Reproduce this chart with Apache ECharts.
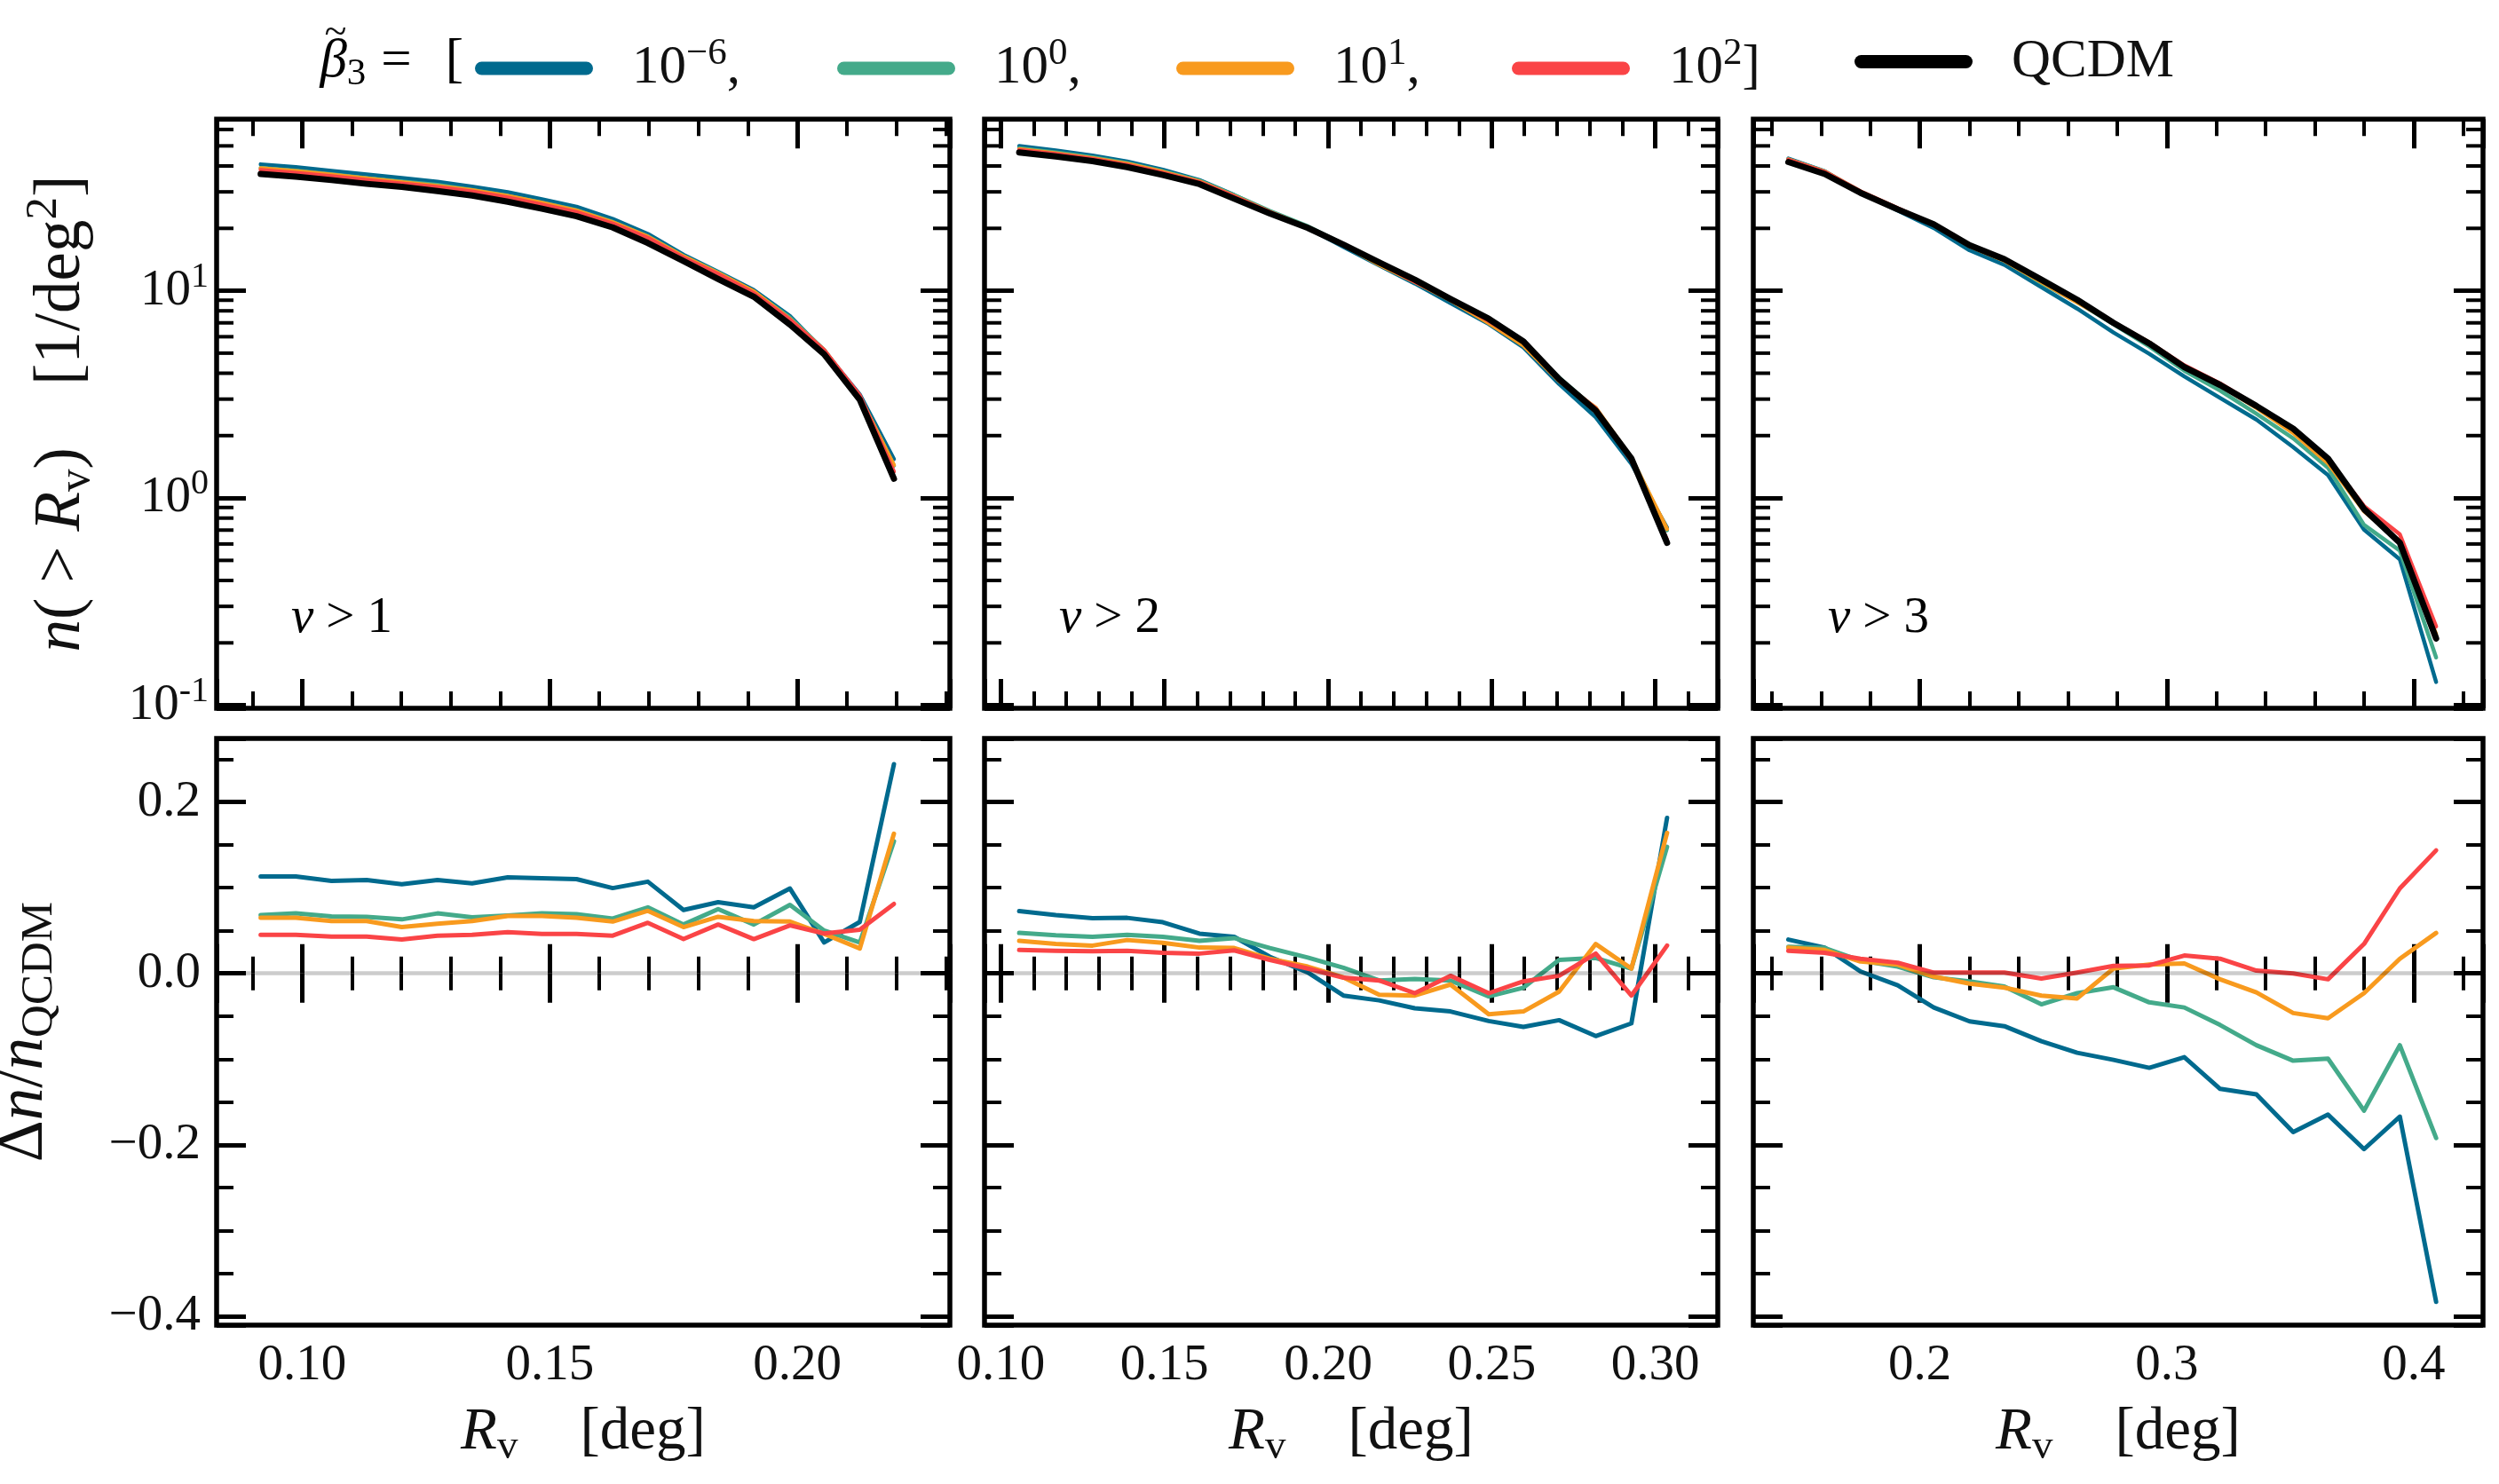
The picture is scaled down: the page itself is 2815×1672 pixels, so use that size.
<!DOCTYPE html>
<html><head><meta charset="utf-8">
<script src="https://cdn.jsdelivr.net/npm/echarts@6/dist/echarts.min.js"></script>
<style>html,body{margin:0;padding:0;background:#fff}#c{width:2815px;height:1672px}</style>
</head><body><div id="c"></div>
<script>
// ---------------- DATA ----------------
const seriesNames = ['b6', 'b0', 'b1', 'b2'];          // beta3 = 1e-6, 1e0, 1e1, 1e2
const qcdmName = 'QCDM';
const seriesColors = ['#006A8E', '#44AA8A', '#F89A1E', '#FA4446'];
const nuLabels = ['1', '2', '3'];

const rv_nu1 = [0.0916, 0.0987, 0.1059, 0.1130, 0.1201, 0.1273, 0.1343, 0.1415, 0.1484, 0.1554, 0.1627, 0.1698, 0.1770, 0.1840, 0.1912, 0.1985, 0.2054, 0.2126, 0.2195];
const rv_nu2 = [0.1056, 0.1168, 0.1280, 0.1386, 0.1495, 0.1607, 0.1713, 0.1822, 0.1938, 0.2047, 0.2156, 0.2265, 0.2374, 0.2491, 0.2597, 0.2706, 0.2818, 0.2927, 0.3036];
const rv_nu3 = [0.1467, 0.1614, 0.1759, 0.1910, 0.2056, 0.2201, 0.2342, 0.2492, 0.2637, 0.2784, 0.2929, 0.3071, 0.3216, 0.3363, 0.3512, 0.3653, 0.3799, 0.3944, 0.4091];

// cumulative abundance n(>Rv) [1/deg^2]
const n_nu1_qcdm = [36.6, 35.5, 34.2, 32.8, 31.7, 30.3, 28.8, 26.9, 24.9, 22.9, 20.2, 17.0, 13.9, 11.4, 9.36, 6.87, 4.94, 2.98, 1.24];
const n_nu1_b6 = [40.74, 39.51, 37.89, 36.38, 35.00, 33.60, 31.82, 29.91, 27.66, 25.42, 22.21, 18.82, 14.93, 12.35, 10.08, 7.55, 5.12, 3.16, 1.54];
const n_nu1_b0 = [39.09, 37.99, 36.47, 34.96, 33.70, 32.42, 30.69, 28.72, 26.64, 24.48, 21.49, 18.31, 14.69, 12.26, 9.89, 7.42, 5.19, 3.09, 1.43];
const n_nu1_b1 = [38.98, 37.81, 36.29, 34.80, 33.41, 32.06, 30.56, 28.70, 26.57, 24.39, 21.42, 18.24, 14.65, 12.15, 9.93, 7.29, 5.17, 3.07, 1.44];
const n_nu1_b2 = [38.25, 37.10, 35.67, 34.21, 32.95, 31.63, 30.10, 28.19, 26.05, 23.95, 21.09, 18.00, 14.46, 12.05, 9.73, 7.25, 5.17, 3.13, 1.34];

const n_nu2_qcdm = [46.5, 44.5, 42.2, 39.5, 36.2, 32.7, 27.8, 23.6, 20.1, 16.7, 13.7, 11.3, 9.12, 7.32, 5.69, 3.75, 2.64, 1.55, 0.608];
const n_nu2_b6 = [49.88, 47.53, 44.92, 42.06, 38.36, 34.21, 28.98, 24.06, 20.12, 16.27, 13.27, 10.84, 8.72, 6.91, 5.33, 3.55, 2.45, 1.46, 0.718];
const n_nu2_b0 = [48.69, 46.48, 44.00, 41.27, 37.74, 33.94, 28.95, 24.30, 20.47, 16.81, 13.59, 11.23, 9.04, 7.12, 5.60, 3.81, 2.69, 1.56, 0.698];
const n_nu2_b1 = [48.27, 46.03, 43.57, 41.04, 37.49, 33.68, 28.62, 24.00, 20.26, 16.62, 13.36, 11.01, 9.00, 6.97, 5.44, 3.67, 2.73, 1.56, 0.708];
const n_nu2_b2 = [47.77, 45.67, 43.29, 40.54, 37.07, 33.46, 28.55, 23.97, 20.21, 16.61, 13.59, 11.04, 9.09, 7.15, 5.64, 3.74, 2.70, 1.51, 0.628];

const n_nu3_qcdm = [41.8, 36.6, 29.7, 24.7, 20.9, 16.6, 14.2, 11.3, 9.04, 7.0, 5.57, 4.28, 3.51, 2.78, 2.16, 1.55, 0.884, 0.608, 0.210];
const n_nu3_b6 = [43.45, 37.70, 29.77, 24.36, 20.07, 15.67, 13.33, 10.41, 8.20, 6.29, 4.96, 3.86, 3.04, 2.39, 1.76, 1.29, 0.703, 0.506, 0.1295];
const n_nu3_b0 = [43.10, 37.68, 30.14, 24.90, 20.80, 16.45, 13.98, 10.89, 8.83, 6.89, 5.38, 4.11, 3.30, 2.55, 1.94, 1.40, 0.742, 0.557, 0.170];
const n_nu3_b1 = [43.06, 37.60, 30.11, 24.95, 20.82, 16.40, 13.96, 11.01, 8.78, 7.04, 5.63, 4.33, 3.49, 2.72, 2.06, 1.47, 0.864, 0.618, 0.220];
const n_nu3_b2 = [42.90, 37.48, 30.21, 25.01, 20.92, 16.61, 14.21, 11.23, 9.05, 7.06, 5.62, 4.37, 3.57, 2.79, 2.16, 1.54, 0.914, 0.668, 0.240];

// relative difference dn / n_QCDM
const dn_nu1_b6 = [0.113, 0.113, 0.108, 0.109, 0.104, 0.109, 0.105, 0.112, 0.111, 0.110, 0.0995, 0.107, 0.074, 0.083, 0.077, 0.099, 0.036, 0.060, 0.244];
const dn_nu1_b0 = [0.068, 0.070, 0.0665, 0.066, 0.063, 0.070, 0.0655, 0.0675, 0.070, 0.069, 0.064, 0.077, 0.057, 0.075, 0.057, 0.080, 0.050, 0.036, 0.154];
const dn_nu1_b1 = [0.065, 0.065, 0.061, 0.061, 0.054, 0.058, 0.061, 0.067, 0.067, 0.065, 0.0605, 0.073, 0.054, 0.066, 0.061, 0.0605, 0.046, 0.029, 0.163];
const dn_nu1_b2 = [0.045, 0.045, 0.043, 0.043, 0.0395, 0.044, 0.045, 0.048, 0.046, 0.046, 0.044, 0.059, 0.040, 0.057, 0.040, 0.056, 0.0465, 0.051, 0.081];

const dn_nu2_b6 = [0.0727, 0.068, 0.0644, 0.0648, 0.0597, 0.0463, 0.0426, 0.0194, 0.001, -0.0259, -0.0315, -0.0407, -0.0444, -0.0556, -0.0625, -0.0546, -0.0731, -0.0583, 0.1815];
const dn_nu2_b0 = [0.0472, 0.0444, 0.0426, 0.0449, 0.0426, 0.038, 0.0412, 0.0296, 0.0185, 0.0065, -0.0083, -0.0065, -0.0083, -0.0269, -0.0167, 0.0157, 0.018, 0.0056, 0.1477];
const dn_nu2_b1 = [0.038, 0.0343, 0.0324, 0.0389, 0.0356, 0.0301, 0.0296, 0.0171, 0.0079, -0.0046, -0.025, -0.0259, -0.013, -0.0477, -0.0444, -0.0213, 0.0343, 0.0056, 0.1639];
const dn_nu2_b2 = [0.0273, 0.0264, 0.0259, 0.0264, 0.0241, 0.0231, 0.0269, 0.0157, 0.0056, -0.0051, -0.0083, -0.0231, -0.0028, -0.0231, -0.0093, -0.0028, 0.0231, -0.0259, 0.0324];

const dn_nu3_b6 = [0.0394, 0.0301, 0.0023, -0.0139, -0.0398, -0.056, -0.0616, -0.0792, -0.0926, -0.1009, -0.1102, -0.0977, -0.1347, -0.1412, -0.1852, -0.1648, -0.2051, -0.1671, -0.3833];
const dn_nu3_b0 = [0.031, 0.0296, 0.0148, 0.0079, -0.0046, -0.0093, -0.0153, -0.0361, -0.0231, -0.0162, -0.0338, -0.0398, -0.0602, -0.0838, -0.1019, -0.0995, -0.1602, -0.0838, -0.1921];
const dn_nu3_b1 = [0.0301, 0.0273, 0.0139, 0.0102, -0.0037, -0.012, -0.0167, -0.0259, -0.0292, 0.0056, 0.0102, 0.0116, -0.0069, -0.0222, -0.0463, -0.0523, -0.0231, 0.0171, 0.0472];
const dn_nu3_b2 = [0.0264, 0.0241, 0.0171, 0.0125, 0.0009, 0.0009, 0.0009, -0.006, 0.0009, 0.0088, 0.0093, 0.0208, 0.0171, 0.0032, 0.0, -0.0069, 0.0343, 0.0991, 0.1435];

// axis limits / ticks
const xLim_nu1 = [0.0827, 0.2308];
const xLim_nu2 = [0.0950, 0.3191];
const xLim_nu3 = [0.1325, 0.4281];
const yLim_n = [0.0967, 67.25];
const yLim_dn = [-0.4104, 0.2741];
const logMinorTicks = [0.2, 0.3, 0.4, 0.5, 0.6, 0.7, 0.8, 0.9, 2, 3, 4, 5, 6, 7, 8, 9, 20, 30, 40, 50, 60];

// --------------- LAYOUT / STYLE ---------------
const FONT = '"Liberation Serif","DejaVu Serif",serif';
const TXT = '#111';
function richSet(F) {
  const s = Math.round(F * 0.7);
  return {
    rm: {fontFamily: FONT, fontSize: F, height: F, color: TXT},
    it: {fontFamily: FONT, fontSize: F, height: F, color: TXT, fontStyle: 'italic'},
    sup: {fontFamily: FONT, fontSize: s, height: Math.round(F * 0.46), verticalAlign: 'top', color: TXT},
    sub: {fontFamily: FONT, fontSize: s, height: Math.round(F * 0.52), verticalAlign: 'bottom', color: TXT},
    gap: {fontFamily: FONT, fontSize: F, height: F, width: 39},
    g14: {fontFamily: FONT, fontSize: F, height: F, width: 14},
    g17: {fontFamily: FONT, fontSize: F, height: F, width: 17},
    g38: {fontFamily: FONT, fontSize: F, height: F, width: 38},
    g70: {fontFamily: FONT, fontSize: F, height: F, width: 70}
  };
}
const TICK_FS = 57;
const panelLeft = [244, 1109, 1975];
const panelWidth = [826, 826, 822];
const topRow = {top: 134.3, height: 663.7};
const botRow = {top: 832, height: 661};

const panels = [
  {rv: rv_nu1, n: [n_nu1_b6, n_nu1_b0, n_nu1_b1, n_nu1_b2], q: n_nu1_qcdm, d: [dn_nu1_b6, dn_nu1_b0, dn_nu1_b1, dn_nu1_b2], xLim: xLim_nu1, split: 3, step: 0.05, dec: 2, minor: 5},
  {rv: rv_nu2, n: [n_nu2_b6, n_nu2_b0, n_nu2_b1, n_nu2_b2], q: n_nu2_qcdm, d: [dn_nu2_b6, dn_nu2_b0, dn_nu2_b1, dn_nu2_b2], xLim: xLim_nu2, split: 4, step: 0.05, dec: 2, minor: 5},
  {rv: rv_nu3, n: [n_nu3_b6, n_nu3_b0, n_nu3_b1, n_nu3_b2], q: n_nu3_qcdm, d: [dn_nu3_b6, dn_nu3_b0, dn_nu3_b1, dn_nu3_b2], xLim: xLim_nu3, split: 3, step: 0.1, dec: 1, minor: 5}
];

function isMult(v, step) { const r = v / step; return Math.abs(r - Math.round(r)) < 1e-6; }
const tickCommon = {show: true, inside: true, length: 33, lineStyle: {color: '#000', width: 5}};
const minorCommon = (n) => ({show: true, splitNumber: n, length: 19, lineStyle: {color: '#000', width: 4}});

const grids = [], xAxes = [], yAxes = [], series = [];

panels.forEach((p, i) => {
  [0, 1].forEach(r => {
    const g = grids.length;
    const row = r === 0 ? topRow : botRow;
    grids.push({left: panelLeft[i], width: panelWidth[i], top: row.top, height: row.height,
      show: true, borderColor: '#000', borderWidth: 5.5, backgroundColor: 'transparent',
      containLabel: false, outerBoundsMode: 'none'});
    const xi = xAxes.length, yi = yAxes.length;
    ['bottom', 'top'].forEach((pos, k) => {
      const showLab = (r === 1 && k === 0);
      const ax = {type: 'value', gridIndex: g, position: pos, min: p.xLim[0], max: p.xLim[1], splitNumber: p.split,
        axisLine: {show: false}, splitLine: {show: false},
        axisTick: tickCommon, minorTick: minorCommon(p.minor),
        axisLabel: {show: showLab, margin: 18, color: TXT, fontFamily: FONT, fontSize: TICK_FS,
          formatter: v => isMult(v, p.step) ? v.toFixed(p.dec) : ''}};
      if (showLab) {
        ax.name = '{it|R}{sub|v}{g70| }{rm|[deg]}';
        ax.nameLocation = 'middle';
        ax.nameGap = 88;
        ax.nameTextStyle = {rich: richSet(67)};
      }
      xAxes.push(ax);
    });
    ['left', 'right'].forEach((pos, k) => {
      const showLab = (i === 0 && k === 0);
      let ax;
      if (r === 0) {
        ax = {type: 'log', logBase: 10, gridIndex: g, position: pos, min: yLim_n[0], max: yLim_n[1],
          axisLine: {show: false}, splitLine: {show: false},
          axisTick: tickCommon, minorTick: {show: false},
          axisLabel: {show: showLab, margin: 9, rich: richSet(TICK_FS),
            formatter: v => { const l = Math.log10(v), rr = Math.round(l); return Math.abs(l - rr) < 1e-6 ? '{rm|10}{sup|' + rr + '}' : ''; }}};
        if (showLab) {
          ax.name = '{it|n}{rm|(}{g17| }{rm|>}{g17| }{it|R}{sub|v}{rm|)}{g70| }{rm|[1/deg}{sup|2}{rm|]}';
          ax.nameLocation = 'middle'; ax.nameRotate = 90; ax.nameGap = 138;
          ax.nameTextStyle = {rich: richSet(73)};
        }
      } else {
        ax = {type: 'value', gridIndex: g, position: pos, min: yLim_dn[0], max: yLim_dn[1], splitNumber: 4,
          axisLine: {show: false}, splitLine: {show: false},
          axisTick: tickCommon, minorTick: minorCommon(4),
          axisLabel: {show: showLab, margin: 18, color: TXT, fontFamily: FONT, fontSize: TICK_FS,
            formatter: v => isMult(v, 0.2) ? (v < -1e-9 ? '\u2212' : '') + Math.abs(v).toFixed(1) : ''}};
        if (showLab) {
          ax.name = '{rm|\u0394}{it|n}{rm|/}{it|n}{sub|QCDM}';
          ax.nameLocation = 'middle'; ax.nameRotate = 90; ax.nameGap = 180;
          ax.nameTextStyle = {rich: richSet(73)};
        }
      }
      yAxes.push(ax);
    });

    if (r === 0) {
      p.n.forEach((arr, s) => {
        series.push({type: 'line', name: seriesNames[s], xAxisIndex: xi, yAxisIndex: yi,
          data: p.rv.map((x, j) => [x, arr[j]]), showSymbol: false, symbol: 'none',
          itemStyle: {color: seriesColors[s]},
          lineStyle: {color: seriesColors[s], width: 4.5, cap: 'round', join: 'round'}, z: 2});
      });
      series.push({type: 'line', name: qcdmName, xAxisIndex: xi, yAxisIndex: yi,
        data: p.rv.map((x, j) => [x, p.q[j]]), showSymbol: false, symbol: 'none',
        itemStyle: {color: '#000'}, lineStyle: {color: '#000', width: 7, cap: 'round', join: 'round'}, z: 3});
      series.push({type: 'custom', name: 'minorLogTicks', xAxisIndex: xi, yAxisIndex: yi, silent: true, z: 4,
        data: logMinorTicks.map(v => [p.xLim[0], v]),
        renderItem: (params, api) => {
          const cs = params.coordSys;
          const y = api.coord([api.value(0), api.value(1)])[1];
          const st = {stroke: '#000', lineWidth: 4};
          return {type: 'group', children: [
            {type: 'line', shape: {x1: cs.x, y1: y, x2: cs.x + 19, y2: y}, style: st},
            {type: 'line', shape: {x1: cs.x + cs.width - 19, y1: y, x2: cs.x + cs.width, y2: y}, style: st}
          ]};
        }});
    } else {
      p.d.forEach((arr, s) => {
        const sr = {type: 'line', name: seriesNames[s], xAxisIndex: xi, yAxisIndex: yi,
          data: p.rv.map((x, j) => [x, arr[j]]), showSymbol: false, symbol: 'none',
          itemStyle: {color: seriesColors[s]},
          lineStyle: {color: seriesColors[s], width: 5, cap: 'round', join: 'round'}, z: 2};
        if (s === 3) {
          sr.markLine = {silent: true, symbol: 'none', label: {show: false}, z: 5,
            lineStyle: {color: 'rgba(0,0,0,0.2)', width: 4.5, type: 'solid'}, data: [{yAxis: 0}]};
        }
        series.push(sr);
      });
    }
  });
});

// legends
const legendNames = seriesNames.concat([qcdmName]);
const legendText = {
  b6: '{gap| }{rm|10}{sup|\u22126}{rm|,}',
  b0: '{gap| }{rm|10}{sup|0}{rm|,}',
  b1: '{gap| }{rm|10}{sup|1}{rm|,}',
  b2: '{gap| }{rm|10}{sup|2}{rm|]}',
  QCDM: '{gap| }{rm|QCDM}'
};
const legendLeft = [535, 943, 1325, 1703, 2089];
const legends = legendNames.map((nm, k) => ({
  data: [nm], left: legendLeft[k], top: 39, padding: 0, orient: 'horizontal',
  itemWidth: 133, itemHeight: 15, selectedMode: false,
  icon: 'path://M7.5,0H125.5A7.5,7.5,0,0,1,125.5,15H7.5A7.5,7.5,0,0,1,7.5,0Z',
  itemStyle: {borderWidth: 0},
  formatter: n => legendText[n],
  textStyle: {rich: richSet(61)}
}));

const graphics = [
  {type: 'text', x: 522, y: 69.5, silent: true,
   style: {text: '{it|\u03B2}{sub|3}{g17| }{rm|=}{g38| }{rm|[}', rich: richSet(61), align: 'right', verticalAlign: 'middle'}},
  {type: 'text', x: 378, y: 38, silent: true,
   style: {text: '~', fontFamily: FONT, fontSize: 46, fill: TXT, align: 'center', verticalAlign: 'middle'}}
];
panels.forEach((p, i) => {
  graphics.push({type: 'text', x: panelLeft[i] + 84, y: 697, silent: true,
    style: {text: '{it|\u03BD}{g14| }{rm|>}{g14| }{rm|' + nuLabels[i] + '}', rich: richSet(57), align: 'left', verticalAlign: 'middle'}});
});

const chart = echarts.init(document.getElementById('c'), null, {renderer: 'canvas'});
chart.setOption({
  animation: false,
  backgroundColor: '#fff',
  textStyle: {fontFamily: FONT},
  grid: grids, xAxis: xAxes, yAxis: yAxes,
  legend: legends,
  series: series,
  graphic: graphics
});
</script></body></html>
